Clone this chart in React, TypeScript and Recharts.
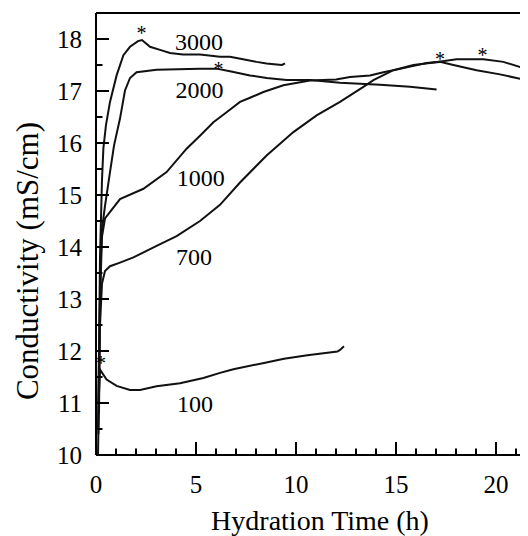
import { ComposedChart, Line, Scatter, XAxis, YAxis } from "recharts";

// hydration time (h), conductivity (mS/cm)
const curve3000: [number, number][] = [
  [0.12, 11.0], [0.2, 13.8], [0.3, 15.3], [0.37, 15.9], [0.5, 16.35], [0.7, 16.79],
  [1.03, 17.3], [1.37, 17.69], [1.7, 17.85], [2.1, 17.96], [2.3, 17.98], [2.7, 17.85],
  [3.2, 17.79], [3.7, 17.73], [4.35, 17.7], [5.2, 17.7], [6.2, 17.66], [6.7, 17.66],
  [7.35, 17.61], [8.03, 17.56], [8.53, 17.53], [9.03, 17.51], [9.3, 17.5], [9.45, 17.53]
];
const curve2000: [number, number][] = [
  [0.15, 10.8], [0.2, 13.0], [0.28, 14.28], [0.45, 14.79], [0.7, 15.44], [0.9, 15.95],
  [1.2, 16.47], [1.45, 17.01], [1.7, 17.25], [2.03, 17.36], [3.03, 17.41], [5.2, 17.43],
  [6.03, 17.43], [6.7, 17.38], [7.7, 17.3], [8.53, 17.25], [9.53, 17.21], [10.7, 17.21],
  [12.2, 17.16], [13.2, 17.14], [14.2, 17.12], [15.7, 17.08], [17.03, 17.03]
];
const curve1000: [number, number][] = [
  [0.1, 10.5], [0.2, 13.0], [0.3, 14.2], [0.45, 14.55], [1.2, 14.92], [2.37, 15.12],
  [3.53, 15.44], [4.53, 15.89], [5.2, 16.14], [5.87, 16.4], [6.53, 16.59], [7.2, 16.79],
  [7.7, 16.87], [8.37, 16.98], [9.37, 17.11], [10.7, 17.2], [12.0, 17.22], [12.7, 17.27],
  [13.7, 17.3], [14.37, 17.36], [15.37, 17.44], [16.53, 17.54], [17.2, 17.56], [17.87, 17.5],
  [19.03, 17.4], [20.2, 17.32], [21.37, 17.22], [22, 17.18]
];
const curve700: [number, number][] = [
  [0.12, 10.4], [0.2, 12.5], [0.3, 13.3], [0.45, 13.54], [0.7, 13.63], [1.2, 13.7],
  [1.87, 13.8], [3.03, 14.02], [4.03, 14.21], [5.2, 14.5], [6.2, 14.81], [7.2, 15.24],
  [8.53, 15.76], [9.87, 16.21], [11.03, 16.53], [12.2, 16.79], [13.37, 17.08], [13.87, 17.21],
  [14.87, 17.4], [15.87, 17.5], [16.7, 17.54], [18.03, 17.61], [19.37, 17.61], [20.37, 17.56],
  [21.37, 17.44], [22, 17.38]
];
const curve100: [number, number][] = [
  [0.1, 10.0], [0.15, 11.2], [0.2, 11.64], [0.53, 11.45], [1.03, 11.33], [1.7, 11.25],
  [2.2, 11.25], [3.03, 11.32], [4.2, 11.38], [5.37, 11.48], [6.2, 11.58], [6.87, 11.65],
  [8.4, 11.77], [9.4, 11.85], [10.57, 11.92], [12.07, 11.99], [12.2, 12.02], [12.4, 12.09]
];

const curveNames = ["3000", "2000", "1000", "700", "100"];
const nameT = [5.15, 5.17, 5.24, 4.9, 4.95];
const nameV = [17.95, 17.03, 15.34, 13.82, 10.99];
const starT = [2.28, 6.12, 17.2, 19.33, 0.25];
const starV = [18.15, 17.46, 17.65, 17.73, 11.8];

const xTicks = [0, 1, 2, 3, 4, 5, 6, 7, 8, 9, 10, 11, 12, 13, 14, 15, 16, 17, 18, 19, 20, 21];
const yTicks = [10, 10.5, 11, 11.5, 12, 12.5, 13, 13.5, 14, 14.5, 15, 15.5, 16, 16.5, 17, 17.5, 18];

const font = "Liberation Serif, DejaVu Serif, serif";
const txt = { fontFamily: font, fill: "#000" };
const xDomain = [0, 21.6];
const yDomain = [10, 18.5];

const toPts = (arr: [number, number][]) => arr.map(([t, v]) => ({ t, v }));
const nameData = curveNames.map((name, i) => ({ t: nameT[i], v: nameV[i], name }));
const starData = starT.map((t, i) => ({ t, v: starV[i] }));
// inward tick marks sit on the axes, drawn as scatter glyphs
const xTickData = xTicks.map((t) => ({ t, v: yDomain[0], major: t % 5 === 0 }));
const yTickData = yTicks.map((v) => ({ t: xDomain[0], v, major: Number.isInteger(v) }));

function XLabel(props: any) {
  const v = props.payload.value;
  if (v % 5 !== 0) return <g />;
  return (
    <text x={props.x} y={Number(props.y) + 38} textAnchor="middle" fontSize={25} style={txt}>
      {v}
    </text>
  );
}

function YLabel(props: any) {
  const v = props.payload.value;
  if (!Number.isInteger(v)) return <g />;
  return (
    <text x={Number(props.x) - 14} y={props.y} dy="0.35em" textAnchor="end" fontSize={25} style={txt}>
      {v}
    </text>
  );
}

export default function App() {
  return (
    <div style={{ width: 520, height: 528, fontFamily: font }}>
      <style>{"html,body{overflow:hidden}"}</style>
      <ComposedChart width={520} height={528} margin={{ top: 4, right: 0, bottom: 0, left: 0 }}>
        <XAxis
          dataKey="t"
          type="number"
          domain={xDomain}
          allowDataOverflow
          ticks={xTicks}
          interval={0}
          tickSize={0}
          tickMargin={0}
          tickLine={false}
          tick={(p: any) => <XLabel {...p} />}
          axisLine={{ stroke: "#000", strokeWidth: 2 }}
          height={81}
        />
        <XAxis
          xAxisId="top"
          orientation="top"
          type="number"
          domain={xDomain}
          height={1}
          tick={false}
          tickLine={false}
          axisLine={{ stroke: "#000", strokeWidth: 2 }}
        />
        <YAxis
          type="number"
          domain={yDomain}
          allowDataOverflow
          ticks={yTicks}
          interval={0}
          tickSize={0}
          tickMargin={0}
          tickLine={false}
          tick={(p: any) => <YLabel {...p} />}
          axisLine={{ stroke: "#000", strokeWidth: 2 }}
          width={88}
        />
        {[curve3000, curve2000, curve1000, curve700, curve100].map((c, i) => (
          <Line
            key={curveNames[i]}
            data={toPts(c)}
            dataKey="v"
            type="linear"
            stroke="#111"
            strokeWidth={2}
            dot={false}
            isAnimationActive={false}
          />
        ))}
        <Scatter
          data={xTickData}
          dataKey="v"
          isAnimationActive={false}
          shape={(p: any) => (
            <rect
              x={p.cx - 1}
              y={p.cy - (p.payload.major ? 13 : 6.5)}
              width={2}
              height={p.payload.major ? 13 : 6.5}
              fill="#000"
            />
          )}
        />
        <Scatter
          data={yTickData}
          dataKey="v"
          isAnimationActive={false}
          shape={(p: any) => (
            <rect
              x={p.cx}
              y={p.cy - 1}
              width={p.payload.major ? 13 : 6.5}
              height={2}
              fill="#000"
            />
          )}
        />
        <Scatter
          data={nameData}
          dataKey="v"
          isAnimationActive={false}
          shape={(p: any) => (
            <text x={p.cx} y={p.cy} dy="0.35em" textAnchor="middle" fontSize={24} style={txt}>
              {p.payload.name}
            </text>
          )}
        />
        <Scatter
          data={starData}
          dataKey="v"
          isAnimationActive={false}
          shape={(p: any) => (
            <text x={p.cx} y={p.cy} dy="0.45em" textAnchor="middle" fontSize={20} style={txt}>
              *
            </text>
          )}
        />
        <text x={312} y={522} textAnchor="middle" fontSize={28} style={txt}>
          Hydration Time (h)
        </text>
        <text
          x={19}
          y={253}
          transform="rotate(-90 19 253)"
          textAnchor="middle"
          dominantBaseline="central"
          fontSize={31}
          style={txt}
        >
          Conductivity (mS/cm)
        </text>
      </ComposedChart>
    </div>
  );
}
